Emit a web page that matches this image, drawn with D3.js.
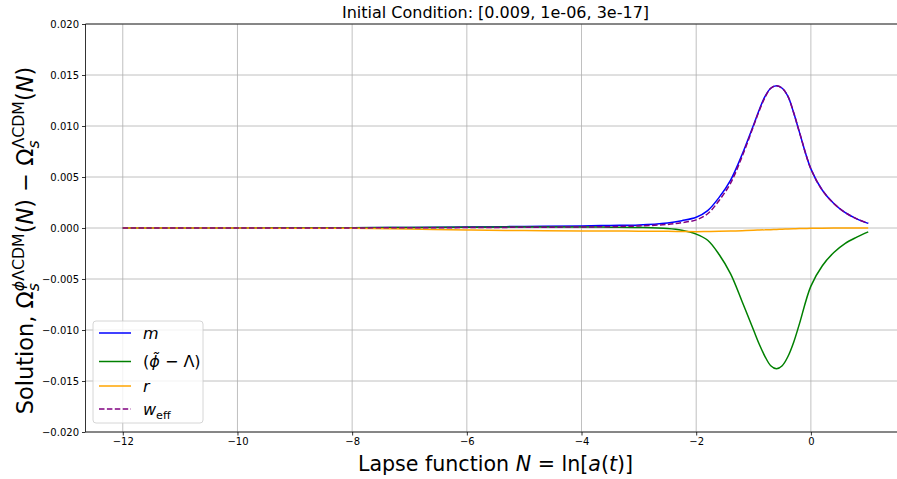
<!DOCTYPE html>
<html>
<head>
<meta charset="utf-8">
<script src="https://cdn.jsdelivr.net/npm/d3@7"></script>
<style>
  body { margin: 0; background: #fff; }
  svg { display: block; font-family: "DejaVu Sans", sans-serif; }
</style>
</head>
<body>
<svg id="chart" width="897" height="479"></svg>
<script>
// lapse function grid
var lapseN = [-12, -10, -8, -7, -6, -5, -4, -3.5, -3, -2.5, -2.25, -2, -1.8, -1.6, -1.4, -1.2, -1.0, -0.9, -0.8, -0.7, -0.6, -0.5, -0.4, -0.3, -0.2, 0, 0.2, 0.4, 0.6, 0.8, 1.0];

var mVals = [0, 0.00001, 0.00003, 0.00006, 0.0001, 0.00015, 0.0002, 0.00025, 0.0003, 0.0005, 0.00072, 0.00105, 0.0017, 0.003, 0.0047, 0.0072, 0.0101, 0.0116, 0.0129, 0.0137, 0.01395, 0.0137, 0.0129, 0.0113, 0.0094, 0.0058, 0.0037, 0.0024, 0.0015, 0.0009, 0.00045];
var phiVals = [0, 0.00001, 0.00003, 0.00005, 0.00008, 0.0001, 0.0001, 0.00008, 0.00005, -0.00005, -0.00022, -0.0006, -0.0012, -0.0026, -0.0045, -0.0072, -0.0100, -0.0114, -0.0126, -0.0135, -0.0138, -0.0135, -0.0126, -0.0112, -0.0094, -0.0057, -0.0037, -0.0024, -0.0015, -0.0009, -0.00038];
var rVals = [0, -0.00001, -0.00003, -0.0001, -0.0002, -0.00025, -0.0003, -0.0003, -0.00031, -0.00033, -0.00035, -0.00036, -0.00035, -0.00033, -0.0003, -0.00026, -0.00022, -0.0002, -0.00018, -0.00016, -0.00014, -0.00012, -0.0001, -0.00008, -0.00006, -0.00003, -0.00002, -0.00001, 0, 0, 0];
var weffVals = [0, 0, 0.00001, 0.00002, 0.00004, 0.00007, 0.0001, 0.00013, 0.0002, 0.00035, 0.00052, 0.0008, 0.0014, 0.0027, 0.0044, 0.0070, 0.0100, 0.0115, 0.0128, 0.0137, 0.01395, 0.0137, 0.0129, 0.0113, 0.0094, 0.0058, 0.0037, 0.0024, 0.0015, 0.0009, 0.00045];

var xTicks = [-12, -10, -8, -6, -4, -2, 0];
var yTicks = [-0.020, -0.015, -0.010, -0.005, 0.000, 0.005, 0.010, 0.015, 0.020];
var titleText = "Initial Condition: [0.009, 1e-06, 3e-17]";

var series = [
  { name: "m", vals: mVals, color: "blue", dash: null },
  { name: "phi", vals: phiVals, color: "green", dash: null },
  { name: "r", vals: rVals, color: "orange", dash: null },
  { name: "weff", vals: weffVals, color: "purple", dash: "5.5,2.4" }
];

const svg = d3.select("#chart");
const pLeft = 85.5, pRight = 905.5, pTop = 24, pBottom = 432;

const x = d3.scaleLinear().domain([-12.65, 1.65]).range([pLeft, pRight]);
const y = d3.scaleLinear().domain([-0.02, 0.02]).range([pBottom, pTop]);

// grid
svg.append("g").selectAll("line").data(xTicks).join("line")
  .attr("x1", d => x(d)).attr("x2", d => x(d))
  .attr("y1", pTop).attr("y2", pBottom)
  .attr("stroke", "#b0b0b0").attr("stroke-width", 0.8);
svg.append("g").selectAll("line").data(yTicks).join("line")
  .attr("x1", pLeft).attr("x2", pRight)
  .attr("y1", d => y(d)).attr("y2", d => y(d))
  .attr("stroke", "#b0b0b0").attr("stroke-width", 0.8);

// lines
const line = d3.line().x(d => x(d[0])).y(d => y(d[1])).curve(d3.curveCatmullRom);
series.forEach(s => {
  svg.append("path")
    .attr("d", line(lapseN.map((n, i) => [n, s.vals[i]])))
    .attr("fill", "none")
    .attr("stroke", s.color)
    .attr("stroke-width", 1.5)
    .attr("stroke-dasharray", s.dash);
});

// axes
const fmtY = d => d3.format(".3f")(d).replace("-", "\u2212");
const fmtX = d => String(d).replace("-", "\u2212");
const xAxis = svg.append("g").attr("transform", `translate(0,${pBottom})`)
  .call(d3.axisBottom(x).tickValues(xTicks).tickFormat(fmtX).tickSize(3.5).tickSizeOuter(0));
const yAxis = svg.append("g").attr("transform", `translate(${pLeft},0)`)
  .call(d3.axisLeft(y).tickValues(yTicks).tickFormat(fmtY).tickSize(3.5).tickSizeOuter(0));
[xAxis, yAxis].forEach(a => {
  a.selectAll("text").attr("font-family", "DejaVu Sans").attr("font-size", 10).attr("fill", "#000");
  a.selectAll("line").attr("stroke", "#000").attr("stroke-width", 0.8);
  a.select(".domain").remove();
});
xAxis.selectAll("text").attr("dy", "0.71em").attr("y", 6);
yAxis.selectAll("text").attr("x", -6.5);

// spines
svg.append("line").attr("x1", pLeft).attr("x2", pLeft).attr("y1", pTop).attr("y2", pBottom).attr("stroke", "#000").attr("stroke-width", 0.8);
svg.append("line").attr("x1", pLeft).attr("x2", pRight).attr("y1", pTop).attr("y2", pTop).attr("stroke", "#000").attr("stroke-width", 0.8);
svg.append("line").attr("x1", pLeft).attr("x2", pRight).attr("y1", pBottom).attr("y2", pBottom).attr("stroke", "#000").attr("stroke-width", 0.8);

// title
svg.append("text").attr("x", (pLeft + pRight) / 2).attr("y", 18)
  .attr("text-anchor", "middle").attr("font-size", 16).text(titleText);

// mathtext-ish layout helper: pieces are segments or stacked sub/sup
function addSegs(textSel, segs) {
  segs.forEach(s => textSel.append("tspan").attr("font-style", s.i ? "italic" : "normal").text(s.t));
}
function layoutMath(g, pieces, size) {
  let cx = 0;
  pieces.forEach(p => {
    if (p.stack) {
      const sub = g.append("text").attr("x", cx).attr("y", size * 0.25).attr("font-size", size * 0.7);
      addSegs(sub, p.sub);
      const sup = g.append("text").attr("x", cx).attr("y", -size * 0.42).attr("font-size", size * 0.7);
      addSegs(sup, p.sup);
      cx += Math.max(sub.node().getComputedTextLength(), sup.node().getComputedTextLength());
    } else {
      const t = g.append("text").attr("x", cx).attr("y", p.dy || 0).attr("font-size", size * (p.scale || 1));
      addSegs(t, p.segs);
      cx += t.node().getComputedTextLength();
    }
  });
  return cx;
}

// x label
const xl = svg.append("g");
const xw = layoutMath(xl, [
  { segs: [{ t: "Lapse function " }, { t: "N", i: true }, { t: " = ln[" }, { t: "a", i: true }, { t: "(" }, { t: "t", i: true }, { t: ")]" }] }
], 20.6);
xl.attr("transform", `translate(${(pLeft + pRight) / 2 - xw / 2},471)`);

// y label
const yl = svg.append("g");
const yw = layoutMath(yl, [
  { segs: [{ t: "Solution, \u03a9" }] },
  { stack: true, sub: [{ t: "s", i: true }], sup: [{ t: "\u03d5", i: true }, { t: "\u039bCDM" }] },
  { segs: [{ t: "(" }, { t: "N", i: true }, { t: ") \u2212 \u03a9" }] },
  { stack: true, sub: [{ t: "s", i: true }], sup: [{ t: "\u039bCDM" }] },
  { segs: [{ t: "(" }, { t: "N", i: true }, { t: ")" }] }
], 22.5);
yl.attr("transform", `translate(33,${240.5 + yw / 2}) rotate(-90)`);

// legend
const lg = svg.append("g").attr("transform", "translate(93,321)");
lg.append("rect").attr("width", 110).attr("height", 102).attr("rx", 3)
  .attr("fill", "#fff").attr("fill-opacity", 0.8).attr("stroke", "#cccccc").attr("stroke-width", 0.8);
const legendLabels = [
  [{ segs: [{ t: "m", i: true }] }],
  [{ segs: [{ t: "(" }, { t: "\u03d5\u0303", i: true }, { t: " \u2212 \u039b)" }] }],
  [{ segs: [{ t: "r", i: true }] }],
  [{ segs: [{ t: "w", i: true }] }, { segs: [{ t: "eff" }], dy: 4, scale: 0.7 }]
];
const rowY = [12, 40.5, 65, 88];
series.forEach((s, i) => {
  lg.append("line").attr("x1", 6).attr("x2", 38).attr("y1", rowY[i]).attr("y2", rowY[i])
    .attr("stroke", s.color).attr("stroke-width", 1.5).attr("stroke-dasharray", s.dash);
  const tg = lg.append("g").attr("transform", `translate(50,${rowY[i] + 5.5})`);
  layoutMath(tg, legendLabels[i], 16);
});
</script>
</body>
</html>
